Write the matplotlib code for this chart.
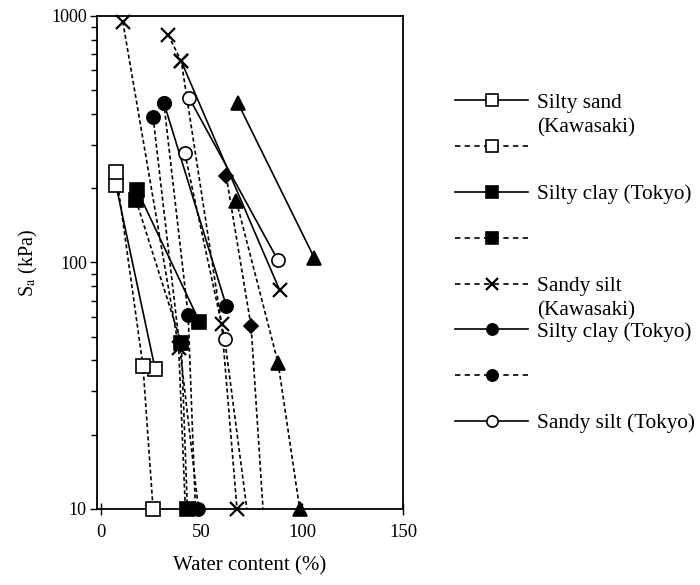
import matplotlib
matplotlib.use("Agg")
import matplotlib.pyplot as plt
from matplotlib.lines import Line2D

plt.rcParams['font.family'] = ['Liberation Serif', 'DejaVu Serif']
plt.rcParams['mathtext.fontset'] = 'stix'

# Water content (%) and suction S_a (kPa) along each drying path
# Silty sand (Kawasaki) - open squares
ssk_w_solid = [7.6, 27.0]
ssk_s_solid = [206, 37]
ssk_w_dash = [7.6, 21.0, 26.0]
ssk_s_dash = [233, 38, 10]

# Silty clay (Tokyo) - filled squares
sct_w_solid = [18.0, 49.0]
sct_s_solid = [197, 57.5]
sct_w_dash = [17.5, 40.0, 43.0]
sct_s_dash = [179, 47, 10]

# Sandy silt (Kawasaki) - crosses
sdk_w_dash1 = [11.0, 38.7, 42.0]
sdk_s_dash1 = [946, 45, 10]
sdk_w_dash2 = [33.5, 40.0, 60.0, 67.6]
sdk_s_dash2 = [837, 653, 56, 10]
sdk_w_solid = [40.0, 88.8]
sdk_s_solid = [653, 77]

# Silty clay (Tokyo) - filled circles
sct2_w_solid = [31.3, 62.3]
sct2_s_solid = [445, 66.6]
sct2_w_dash1 = [31.3, 43.4, 47.0]
sct2_s_dash1 = [445, 61, 10]
sct2_w_dash2 = [26.0, 48.5]
sct2_s_dash2 = [388, 10]

# Sandy silt (Tokyo) - open circles
sdt_w_solid = [43.9, 87.9]
sdt_s_solid = [464, 102]
sdt_w_dash = [41.7, 61.5, 72.5]
sdt_s_dash = [277, 49, 10]

# Additional specimens - filled triangles and diamonds
tri_w_solid = [68.1, 106.0]
tri_s_solid = [442, 104]
tri_w_dash = [67.3, 88.0, 98.7]
tri_s_dash = [177, 39, 10]
dia_w_dash = [62.3, 74.6, 80.5]
dia_s_dash = [223, 55, 10]

legend_labels = ["Silty sand", "", "Silty clay (Tokyo)", "", "Sandy silt",
                 "Silty clay (Tokyo)", "", "Sandy silt (Tokyo)"]
legend_second_lines = {0: "(Kawasaki)", 4: "(Kawasaki)"}

x_ticks = [0, 50, 100, 150]

LW = 1.2
DASH = (0, (2.4, 1.6))
LEG_DASH = (0, (3.2, 2.6))
FS = 15.3

MARK = {
    'osq': dict(marker='s', ms=10, mfc='white', mec='black', mew=1.2),
    'fsq': dict(marker='s', ms=10, mfc='black', mec='black', mew=1.2),
    'x':   dict(marker='x', ms=10, mfc='black', mec='black', mew=1.6),
    'fci': dict(marker='o', ms=9.5, mfc='black', mec='black', mew=1.2),
    'oci': dict(marker='o', ms=9.5, mfc='white', mec='black', mew=1.2),
    'tri': dict(marker='^', ms=10, mfc='black', mec='black', mew=1.2),
    'dia': dict(marker='D', ms=7.5, mfc='black', mec='black', mew=1.2),
}

fig = plt.figure(figsize=(7.0, 5.85), dpi=100)
ax = fig.add_axes([0.138, 0.130, 0.438, 0.843])
ax.set_yscale('log')


def path(w, s, style, mark, marked=None):
    ls = '-' if style == 'solid' else DASH
    ax.plot(w, s, color='black', lw=LW, ls=ls, zorder=2, clip_on=False)
    idx = list(range(len(w))) if marked is None else marked
    ax.plot([w[i] for i in idx], [s[i] for i in idx], ls='none',
            zorder=3, clip_on=False, **MARK[mark])


path(ssk_w_solid, ssk_s_solid, 'solid', 'osq')
path(ssk_w_dash, ssk_s_dash, 'dash', 'osq')
path(sct_w_solid, sct_s_solid, 'solid', 'fsq')
path(sct_w_dash, sct_s_dash, 'dash', 'fsq')
path(sdk_w_dash1, sdk_s_dash1, 'dash', 'x', marked=[0, 1])
path(sdk_w_dash2, sdk_s_dash2, 'dash', 'x')
path(sdk_w_solid, sdk_s_solid, 'solid', 'x')
path(sct2_w_solid, sct2_s_solid, 'solid', 'fci')
path(sct2_w_dash1, sct2_s_dash1, 'dash', 'fci', marked=[0, 1])
path(sct2_w_dash2, sct2_s_dash2, 'dash', 'fci')
path(sdt_w_solid, sdt_s_solid, 'solid', 'oci')
path(sdt_w_dash, sdt_s_dash, 'dash', 'oci', marked=[0, 1])
path(tri_w_solid, tri_s_solid, 'solid', 'tri')
path(tri_w_dash, tri_s_dash, 'dash', 'tri')
path(dia_w_dash, dia_s_dash, 'dash', 'dia', marked=[0, 1])

ax.set_xlim(-2, 150)
ax.set_ylim(10, 1000)
ax.set_xticks(x_ticks)
ax.set_xticklabels([str(t) for t in x_ticks])
ax.set_yticks([10, 100, 1000])
ax.set_yticklabels(['10', '100', '1000'])
ax.tick_params(axis='x', direction='inout', length=9, width=1.0,
               labelsize=13.5, pad=6)
ax.tick_params(axis='y', which='major', direction='out', length=5,
               width=1.0, labelsize=13, pad=2)
ax.tick_params(axis='y', which='minor', direction='out', length=4, width=1.0)
for sp in ax.spines.values():
    sp.set_linewidth(1.3)

ax.set_xlabel('Water content (%)', fontsize=15, labelpad=11)
ax.set_ylabel('S$_{\\mathrm{a}}$ (kPa)', fontsize=14.5, labelpad=8)

handles = [
    Line2D([], [], color='black', lw=LW, ls='-', **MARK['osq']),
    Line2D([], [], color='black', lw=LW, ls=LEG_DASH, **MARK['osq']),
    Line2D([], [], color='black', lw=LW, ls='-', **MARK['fsq']),
    Line2D([], [], color='black', lw=LW, ls=LEG_DASH, **MARK['fsq']),
    Line2D([], [], color='black', lw=LW, ls=LEG_DASH, **MARK['x']),
    Line2D([], [], color='black', lw=LW, ls='-', **MARK['fci']),
    Line2D([], [], color='black', lw=LW, ls=LEG_DASH, **MARK['fci']),
    Line2D([], [], color='black', lw=LW, ls='-', **MARK['oci']),
]
for h in handles:
    h.set_markersize(h.get_markersize() * 0.85)

leg = fig.legend(handles, legend_labels, loc='upper left',
                 bbox_to_anchor=(0.650, 0.841), frameon=False,
                 fontsize=FS, numpoints=1, handlelength=3.45,
                 handletextpad=0.42, labelspacing=1.22,
                 borderaxespad=0, borderpad=0)

fig.canvas.draw()
for i, extra in legend_second_lines.items():
    t = leg.get_texts()[i]
    ax.annotate(extra, xy=(0, 0.5), xycoords=t, xytext=(0, -17.5),
                textcoords='offset points', ha='left', va='center',
                fontsize=FS, annotation_clip=False)

fig.savefig('out.png', dpi=100, facecolor='white')
